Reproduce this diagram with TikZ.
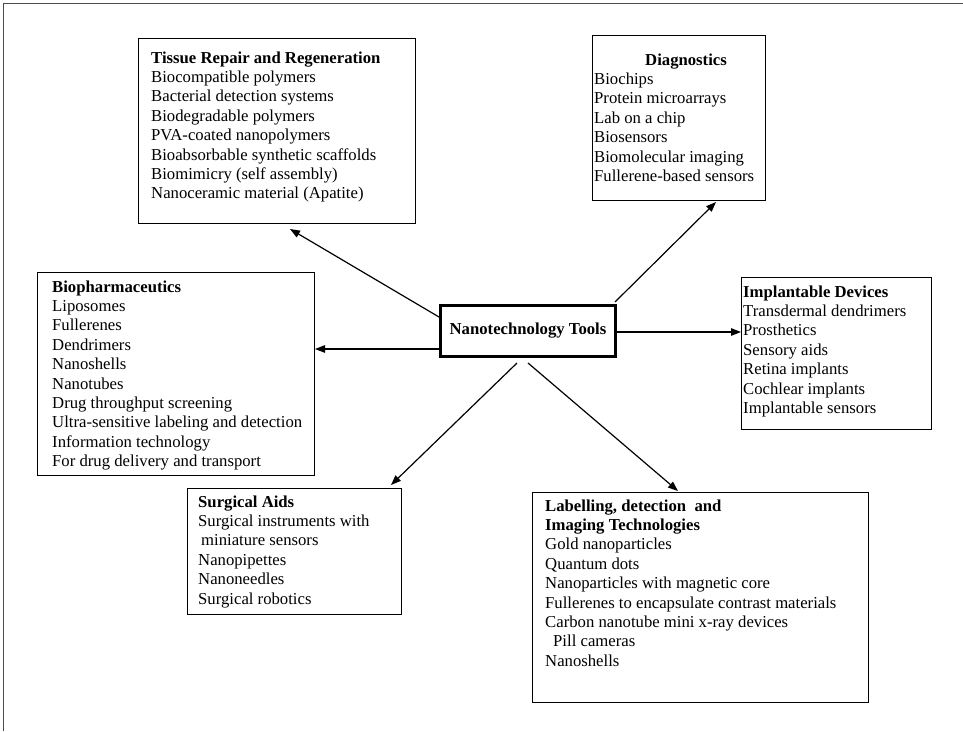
\documentclass[tikz,border=0pt]{standalone}
\usepackage{fontspec}
\setmainfont{Liberation Serif}
\usetikzlibrary{arrows.meta,calc}
\begin{document}
\begin{tikzpicture}[x=1pt,y=-1pt,
  box/.style={draw=black, line width=1.1pt, anchor=north west, inner sep=0pt},
  txt/.style={anchor=north west, inner sep=0pt, align=left, font=\fontsize{16.7}{19.4}\selectfont},
  arr/.style={line width=1.2pt, -{Triangle[length=10pt,width=7.5pt]}}]
\useasboundingbox (0,0) rectangle (963,731);
\draw[line width=1pt, black!70] (3,731) -- (3,3) -- (963,3);

% boxes
\node[box, minimum width=277pt, minimum height=185pt] (tissue) at (138,38) {};
\node[box, minimum width=173pt, minimum height=165pt] (diag) at (592,35) {};
\node[box, minimum width=277pt, minimum height=203pt] (bio) at (37,272) {};
\node[box, minimum width=190pt, minimum height=152pt] (impl) at (741,277) {};
\node[box, minimum width=214pt, minimum height=126pt] (surg) at (187,488) {};
\node[box, minimum width=336pt, minimum height=210pt] (lab) at (532,492) {};

\node[draw=black, line width=3pt, minimum width=175pt, minimum height=51pt, inner sep=0pt,
  font=\fontsize{16.7}{19.4}\selectfont\bfseries] (center) at (528,330.5) {Nanotechnology Tools};

% texts
\node[txt] (tissueT) at (151,49.4) {\strut\textbf{Tissue Repair and Regeneration}\\Biocompatible polymers\\Bacterial detection systems\\Biodegradable polymers\\PVA-coated nanopolymers\\Bioabsorbable synthetic scaffolds\\Biomimicry (self assembly)\\Nanoceramic material (Apatite)};
\node[txt] (diagT) at (594,51.4) {\strut\hspace*{51pt}\textbf{Diagnostics}\\Biochips\\Protein microarrays\\Lab on a chip\\Biosensors\\Biomolecular imaging\\Fullerene-based sensors};
\node[txt] (bioT) at (52,278.4) {\strut\textbf{Biopharmaceutics}\\Liposomes\\Fullerenes\\Dendrimers\\Nanoshells\\Nanotubes\\Drug throughput screening\\Ultra-sensitive labeling and detection\\Information technology\\For drug delivery and transport};
\node[txt] (implT) at (743,283.4) {\strut\textbf{Implantable Devices}\\Transdermal dendrimers\\Prosthetics\\Sensory aids\\Retina implants\\Cochlear implants\\Implantable sensors};
\node[txt] (surgT) at (198,493.4) {\strut\textbf{Surgical Aids}\\Surgical instruments with\\\hspace*{3pt}miniature sensors\\Nanopipettes\\Nanoneedles\\Surgical robotics};
\node[txt] (labT) at (545,497.4) {\strut\textbf{Labelling, detection \ and}\\\textbf{Imaging Technologies}\\Gold nanoparticles\\Quantum dots\\Nanoparticles with magnetic core\\Fullerenes to encapsulate contrast materials\\Carbon nanotube mini x-ray devices\\\hspace*{8pt}Pill cameras\\Nanoshells};

% connector end points
\coordinate (sT) at (439,317);   \coordinate (eT) at (290,229);
\coordinate (sD) at (615,302);   \coordinate (eD) at (716,202);
\coordinate (sB) at (439,349);   \coordinate (eB) at (315,349);
\coordinate (sI) at (617,332);   \coordinate (eI) at (741,332);
\coordinate (sS) at (517,363);   \coordinate (eS) at (391,485);
\coordinate (sL) at (528,363);   \coordinate (eL) at (678,491);

\draw[arr] (sT) -- (eT);
\draw[arr] (sD) -- (eD);
\draw[arr] (sB) -- (eB);
\draw[arr] (sI) -- (eI);
\draw[arr] (sS) -- (eS);
\draw[arr] (sL) -- (eL);
\end{tikzpicture}
\end{document}
